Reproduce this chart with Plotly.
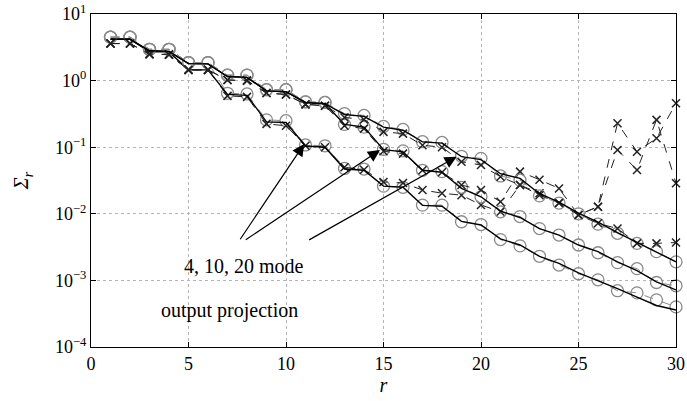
import math
import plotly.graph_objects as go

r = list(range(1, 31))

# gray circles (output projection), solid black lines, black x (mode) for 4, 10, 20 modes
circ_4 = [4.5, 4.5, 2.95, 2.95, 1.86, 1.86, 0.645, 0.63, 0.257, 0.25, 0.108, 0.105, 0.048, 0.047, 0.026, 0.025,
          0.0135, 0.0135, 0.0076, 0.0069, 0.0041, 0.0033, 0.0023, 0.0017, 0.00126, 0.00102, 0.0007, 0.00065, 0.00051, 0.0004]
line_4 = [4.2, 4.2, 2.7, 2.7, 1.45, 1.45, 0.62, 0.6, 0.24, 0.235, 0.104, 0.1, 0.047, 0.045, 0.026, 0.025,
          0.0134, 0.013, 0.0077, 0.0068, 0.0042, 0.0034, 0.0023, 0.0018, 0.0013, 0.001, 0.00075, 0.00056, 0.00042, 0.00036]
mode_4 = [3.6, 3.6, 2.48, 2.48, 1.45, 1.45, 0.59, 0.57, 0.224, 0.21, 0.105, 0.1, 0.05, 0.046, 0.03, 0.029,
          0.0228, 0.0204, 0.019, 0.0136, 0.0107, 0.027, 0.0204, 0.0145, 0.0096, 0.0128, 0.091, 0.0455, 0.257, 0.0288]

circ_10 = [4.5, 4.5, 2.95, 2.95, 1.86, 1.86, 1.21, 1.21, 0.73, 0.73, 0.48, 0.47, 0.22, 0.2, 0.093, 0.088,
           0.045, 0.043, 0.025, 0.018, 0.0107, 0.0091, 0.006, 0.0048, 0.0034, 0.0026, 0.00185, 0.0015, 0.00093, 0.00083]
line_10 = [4.2, 4.2, 2.8, 2.75, 1.8, 1.78, 1.15, 1.12, 0.7, 0.68, 0.47, 0.45, 0.22, 0.2, 0.092, 0.085,
           0.045, 0.042, 0.024, 0.018, 0.011, 0.0088, 0.006, 0.0048, 0.0034, 0.0027, 0.0019, 0.0014, 0.00095, 0.00072]
mode_10 = [3.6, 3.6, 2.5, 2.45, 1.45, 1.45, 1.02, 1.0, 0.65, 0.62, 0.44, 0.42, 0.21, 0.19, 0.087, 0.08,
           0.045, 0.042, 0.027, 0.0228, 0.0152, 0.043, 0.0325, 0.024, 0.0096, 0.0128, 0.229, 0.0857, 0.136, 0.457]

circ_20 = [4.5, 4.5, 2.95, 2.95, 1.86, 1.86, 1.21, 1.21, 0.73, 0.73, 0.48, 0.47, 0.32, 0.30, 0.205, 0.185,
           0.121, 0.118, 0.073, 0.068, 0.037, 0.032, 0.0186, 0.0145, 0.0100, 0.0070, 0.0051, 0.0036, 0.0027, 0.0019]
line_20 = [4.2, 4.2, 2.8, 2.75, 1.8, 1.78, 1.15, 1.12, 0.7, 0.68, 0.47, 0.45, 0.31, 0.29, 0.2, 0.18,
           0.12, 0.115, 0.072, 0.065, 0.04, 0.034, 0.02, 0.015, 0.0102, 0.0075, 0.0052, 0.0037, 0.0027, 0.0019]
mode_20 = [3.6, 3.6, 2.5, 2.45, 1.45, 1.45, 1.02, 1.0, 0.65, 0.62, 0.44, 0.42, 0.28, 0.26, 0.17, 0.16,
           0.107, 0.1, 0.0605, 0.054, 0.036, 0.027, 0.019, 0.0145, 0.0096, 0.0072, 0.006, 0.0036, 0.0036, 0.0037]

x_ticks = [0, 5, 10, 15, 20, 25, 30]
y_tickvals = [1e-4, 1e-3, 1e-2, 1e-1, 1e0, 1e1]
y_ticktext = ["10<sup>−4</sup>", "10<sup>−3</sup>", "10<sup>−2</sup>", "10<sup>−1</sup>", "10<sup>0</sup>", "10<sup>1</sup>"]

label_mode = "4, 10, 20 mode"
label_proj = "output projection"

FONT = "Liberation Serif"

fig = go.Figure()

for circ, line, mode in [(circ_4, line_4, mode_4), (circ_10, line_10, mode_10), (circ_20, line_20, mode_20)]:
    fig.add_trace(go.Scatter(x=r, y=circ, mode="lines+markers",
                             line=dict(color="#8a8a8a", width=1, dash="dash"),
                             marker=dict(symbol="circle-open", size=12, color="#8a8a8a", line=dict(width=1.3)),
                             showlegend=False, cliponaxis=False))
    fig.add_trace(go.Scatter(x=r, y=mode, mode="lines+markers",
                             line=dict(color="#222", width=1, dash="dash"),
                             marker=dict(symbol="x-thin-open", size=8, color="#222", line=dict(width=1.5, color="#222")),
                             showlegend=False, cliponaxis=False))
    fig.add_trace(go.Scatter(x=r, y=line, mode="lines",
                             line=dict(color="black", width=1.4),
                             showlegend=False))

# arrows: tails near the "4, 10, 20 mode" label, tips at the curves
arrows = [((7.6, 0.00394), (10.93, 0.1117)),
          ((7.86, 0.00394), (14.82, 0.0908)),
          ((11.11, 0.00394), (18.75, 0.0721))]
for (tx, ty), (hx, hy) in arrows:
    fig.add_annotation(x=hx, y=math.log10(hy), ax=tx, ay=math.log10(ty),
                       xref="x", yref="y", axref="x", ayref="y",
                       showarrow=True, arrowhead=2, arrowsize=2, arrowwidth=1.2,
                       arrowcolor="black", text="")

fig.add_annotation(x=0.2607, y=0.243, xref="paper", yref="paper", text=label_mode,
                   showarrow=False, xanchor="center", yanchor="middle",
                   font=dict(family=FONT, size=20, color="black"))
fig.add_annotation(x=0.2368, y=0.111, xref="paper", yref="paper", text=label_proj,
                   showarrow=False, xanchor="center", yanchor="middle",
                   font=dict(family=FONT, size=20, color="black"))

fig.update_layout(
    width=687, height=401,
    margin=dict(l=91, r=11, t=14, b=54),
    paper_bgcolor="white", plot_bgcolor="white",
    font=dict(family=FONT, size=18, color="black"),
    xaxis=dict(range=[0, 30], tickvals=x_ticks, ticks="inside", ticklen=5, tickcolor="black",
               tickfont=dict(family=FONT, size=18), automargin=False, ticklabeloverflow="allow",
               showline=True, linecolor="black", linewidth=1.2, mirror="ticks",
               showgrid=True, gridcolor="#b5b5b5", griddash="dot", gridwidth=1, zeroline=False,
               title=dict(text="<i>r</i>", standoff=4, font=dict(family=FONT, size=20))),
    yaxis=dict(type="log", range=[-4, 1], tickvals=y_tickvals, ticktext=y_ticktext,
               tickfont=dict(family=FONT, size=18), automargin=False, ticklabeloverflow="allow",
               ticks="inside", ticklen=5, tickcolor="black",
               showline=True, linecolor="black", linewidth=1.2, mirror="ticks",
               showgrid=True, gridcolor="#b5b5b5", griddash="dot", gridwidth=1, zeroline=False,
               title=dict(text="<i>Σ<sub>r</sub></i>", standoff=20, font=dict(family=FONT, size=20))),
)

# remove the default 8px page margin so the 687x401 figure fills the window; hide the modebar
fig.write_html("out.html", config={"displayModeBar": False},
               post_script="document.body.style.margin='0';document.body.style.overflow='hidden';")
